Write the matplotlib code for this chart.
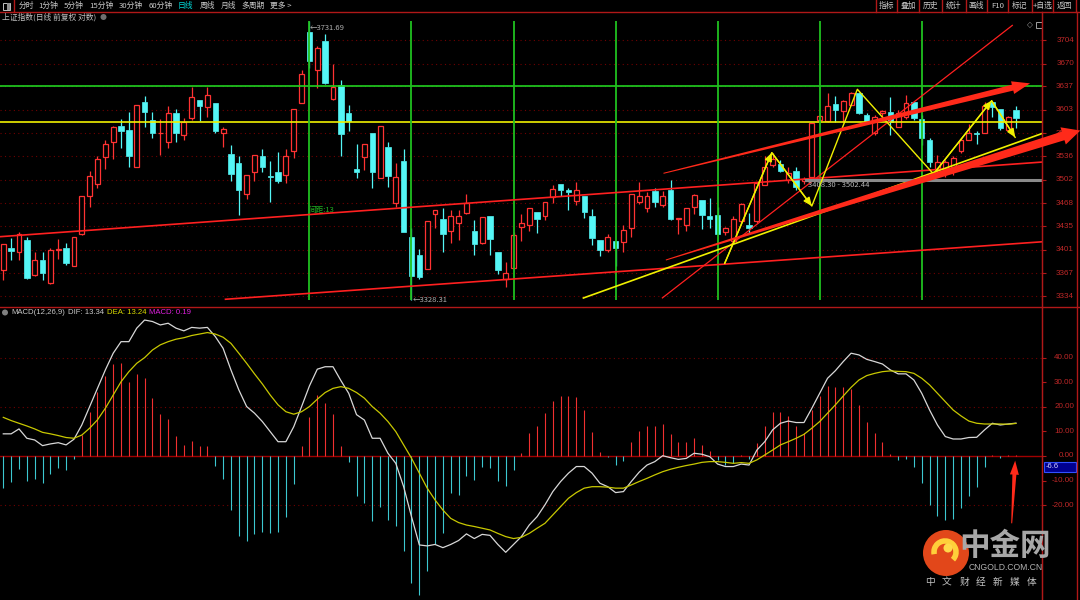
import numpy as np
import matplotlib
matplotlib.use('Agg')
import matplotlib.pyplot as plt
from matplotlib.patches import Polygon, Rectangle, Ellipse, Arc
from matplotlib.lines import Line2D
from matplotlib.transforms import IdentityTransform, blended_transform_factory

plt.rcParams['font.family'] = ['Noto Sans CJK SC', 'DejaVu Sans']

# ---------------- data ----------------
opens = [3371, 3404, 3398, 3415, 3365, 3386, 3353, 3401, 3403, 3378,
         3423, 3478, 3496, 3535, 3556, 3580, 3574, 3521, 3615, 3588,
         3569, 3557, 3598, 3567, 3591, 3618, 3607, 3613, 3569, 3539,
         3526, 3481, 3514, 3536, 3508, 3514, 3509, 3543, 3613, 3716,
         3660, 3703, 3619, 3639, 3598, 3518, 3535, 3570, 3504, 3550,
         3468, 3529, 3420, 3394, 3373, 3452, 3446, 3428, 3439, 3454,
         3428, 3410, 3450, 3397, 3358, 3375, 3434, 3437, 3456, 3449,
         3477, 3496, 3487, 3472, 3479, 3450, 3415, 3401, 3414, 3412,
         3432, 3470, 3461, 3486, 3466, 3487, 3445, 3437, 3463, 3473,
         3450, 3451, 3426, 3413, 3442, 3436, 3442, 3495, 3523, 3525,
         3502, 3515, 3500, 3506, 3588, 3587, 3611, 3602, 3610, 3628,
         3596, 3569, 3598, 3600, 3579, 3593, 3615, 3590, 3559, 3518,
         3516, 3521, 3543, 3560, 3570, 3569, 3614, 3604, 3574, 3603]
closes = [3409, 3399, 3424, 3360, 3386, 3367, 3401, 3402, 3382, 3419,
          3478, 3507, 3532, 3554, 3578, 3573, 3536, 3610, 3600, 3569,
          3570, 3598, 3569, 3585, 3622, 3608, 3625, 3573, 3576, 3510,
          3487, 3509, 3538, 3521, 3506, 3501, 3537, 3605, 3655, 3673,
          3692, 3642, 3636, 3568, 3587, 3514, 3554, 3513, 3580, 3508,
          3506, 3426, 3363, 3361, 3442, 3458, 3424, 3450, 3450, 3468,
          3409, 3448, 3417, 3371, 3367, 3422, 3440, 3461, 3446, 3470,
          3488, 3487, 3484, 3487, 3455, 3418, 3401, 3420, 3403, 3430,
          3481, 3478, 3478, 3470, 3479, 3446, 3447, 3461, 3480, 3451,
          3445, 3424, 3432, 3445, 3467, 3433, 3497, 3521, 3532, 3515,
          3512, 3492, 3503, 3584, 3594, 3609, 3603, 3616, 3627, 3599,
          3587, 3593, 3601, 3585, 3599, 3613, 3592, 3562, 3528, 3528,
          3528, 3533, 3559, 3569, 3568, 3609, 3607, 3577, 3593, 3592]
highs = [3409, 3418, 3427, 3420, 3398, 3398, 3403, 3416, 3411, 3419,
         3479, 3515, 3536, 3559, 3580, 3590, 3600, 3610, 3623, 3600,
         3590, 3609, 3605, 3592, 3636, 3618, 3636, 3613, 3579, 3552,
         3536, 3509, 3538, 3547, 3529, 3542, 3546, 3605, 3661, 3731.69,
         3695, 3713, 3670, 3646, 3610, 3554, 3554, 3570, 3580, 3556,
         3526, 3546, 3433, 3402, 3442, 3458, 3461, 3458, 3458, 3481,
         3444, 3448, 3450, 3397, 3383, 3426, 3453, 3461, 3456, 3470,
         3495, 3496, 3490, 3499, 3479, 3460, 3415, 3423, 3414, 3437,
         3481, 3499, 3484, 3490, 3486, 3502, 3447, 3461, 3482, 3473,
         3476, 3462, 3434, 3449, 3469, 3454, 3498, 3536, 3541, 3531,
         3521, 3521, 3506, 3584, 3595, 3627, 3623, 3618, 3629, 3629,
         3598, 3595, 3603, 3622, 3603, 3625, 3615, 3595, 3562, 3538,
         3531, 3536, 3562, 3582, 3572, 3615, 3615, 3605, 3594, 3609]
lows = [3357, 3386, 3386, 3358, 3363, 3357, 3352, 3387, 3379, 3378,
        3422, 3462, 3490, 3518, 3532, 3548, 3521, 3521, 3579, 3563,
        3538, 3548, 3557, 3559, 3588, 3587, 3593, 3569, 3550, 3501,
        3451, 3474, 3501, 3514, 3470, 3497, 3497, 3534, 3613, 3663,
        3634, 3641, 3618, 3536, 3572, 3505, 3516, 3490, 3504, 3492,
        3462, 3426, 3328.31, 3358, 3373, 3433, 3397, 3411, 3415, 3453,
        3393, 3409, 3393, 3366, 3347, 3374, 3414, 3428, 3425, 3444,
        3468, 3478, 3458, 3465, 3447, 3408, 3392, 3397, 3377, 3398,
        3420, 3467, 3455, 3462, 3462, 3444, 3423, 3428, 3452, 3431,
        3432, 3423, 3422, 3410, 3439, 3424, 3439, 3495, 3521, 3514,
        3497, 3487, 3496, 3504, 3586, 3586, 3586, 3586, 3610, 3597,
        3586, 3567, 3588, 3567, 3578, 3590, 3588, 3552, 3521, 3506,
        3506, 3509, 3541, 3559, 3554, 3569, 3593, 3574, 3573, 3577]

dif = [9.0, 9.0, 11.0, 7.2, 6.5, 4.2, 4.9, 5.4, 4.5, 6.8,
       12.6, 20.1, 27.5, 35.0, 41.8, 46.5, 46.5, 52.0, 55.3, 54.7,
       53.3, 54.0, 52.0, 50.9, 52.3, 52.0, 52.3, 48.6, 43.8, 35.0,
       26.9, 20.1, 17.4, 14.0, 9.9, 5.8, 5.8, 11.9, 20.1, 28.5,
       35.3, 36.3, 36.3, 30.7, 25.5, 16.8, 14.6, 7.2, 7.2, 1.1,
       -3.0, -12.5, -24.7, -36.2, -36.6, -36.0, -37.3, -36.0, -34.4, -31.7,
       -33.6, -31.9, -32.3, -36.0, -39.2, -36.0, -32.8, -28.1, -24.7, -19.9,
       -14.5, -10.4, -7.0, -4.3, -4.3, -7.0, -11.1, -12.5, -14.9, -14.5,
       -10.4, -6.6, -3.7, -2.3, 0.1, -0.7, -1.4, -1.0, 1.1, 0.7,
       -0.3, -3.3, -4.3, -4.3, -3.3, -3.7, 2.4, 5.8, 10.6, 13.3,
       14.2, 13.6, 13.6, 19.4, 25.5, 31.6, 34.7, 38.4, 41.8, 41.1,
       39.3, 38.4, 37.4, 35.0, 33.4, 33.4, 30.9, 25.5, 18.7, 12.6,
       7.9, 6.9, 6.9, 7.5, 7.6, 10.6, 13.3, 12.6, 13.0, 13.34]
dea = [15.7, 14.4, 13.3, 12.2, 11.0, 9.6, 9.0, 8.3, 7.5, 7.2,
       8.5, 11.3, 14.7, 19.4, 24.8, 30.2, 34.3, 37.7, 40.0, 43.1,
       45.2, 46.5, 47.5, 48.1, 49.0, 49.6, 50.2, 49.6, 48.3, 45.8,
       41.8, 37.7, 33.4, 29.3, 24.8, 20.8, 18.0, 17.0, 18.0, 20.1,
       23.1, 25.8, 27.5, 28.2, 27.5, 25.8, 23.5, 20.1, 17.4, 14.0,
       9.9, 4.5, -0.9, -7.0, -13.1, -17.9, -22.0, -25.4, -27.1, -28.1,
       -28.7, -29.4, -30.1, -31.5, -32.8, -33.6, -33.1, -31.5, -29.4, -27.4,
       -24.0, -20.6, -17.2, -14.9, -13.1, -12.5, -12.5, -12.7, -13.1, -13.1,
       -11.8, -10.4, -9.1, -7.7, -6.4, -5.4, -4.6, -3.9, -3.3, -2.6,
       -2.3, -2.3, -2.6, -3.0, -2.7, -3.0, -1.6, 0.4, 2.4, 4.5,
       5.8, 7.2, 8.8, 11.3, 14.0, 17.4, 20.8, 24.4, 27.9, 30.9,
       32.7, 33.6, 34.3, 34.6, 34.4, 34.3, 33.6, 31.6, 28.9, 25.5,
       22.1, 18.7, 16.3, 14.2, 13.3, 13.0, 13.0, 13.0, 12.9, 13.24]
macd = [-13.1, -10.4, -5.3, -10.0, -9.5, -11.1, -7.5, -5.0, -5.7, -1.4,
        8.5, 18.0, 26.2, 32.5, 37.4, 37.7, 30.2, 33.4, 31.6, 23.7,
        17.1, 15.1, 8.1, 4.5, 6.1, 4.1, 4.1, -3.9, -9.4, -22.0,
        -32.4, -34.8, -31.7, -31.0, -31.2, -30.9, -24.9, -11.4, 4.1, 16.0,
        24.8, 21.7, 17.1, 4.1, -2.3, -16.1, -19.3, -26.3, -20.9, -26.0,
        -28.3, -38.6, -51.5, -56.5, -46.8, -35.9, -31.2, -15.2, -15.9, -8.0,
        -9.8, -4.6, -4.7, -10.0, -12.2, -5.7, 1.4, 9.2, 12.3, 17.4,
        22.4, 24.5, 24.5, 23.9, 18.7, 9.9, 1.8, -0.3, -3.7, -1.9,
        5.8, 10.2, 12.3, 12.3, 13.0, 8.8, 5.8, 5.8, 7.5, 4.5,
        2.2, -1.6, -3.7, -2.7, 0.4, -1.4, 5.2, 12.3, 18.0, 18.0,
        16.4, 12.2, 9.5, 18.7, 24.4, 28.5, 28.2, 28.0, 27.1, 20.7,
        14.0, 9.2, 5.8, 0.8, -1.6, -1.2, -4.3, -10.8, -19.9, -24.3,
        -26.0, -25.8, -21.0, -16.1, -12.5, -4.3, 0.3, -0.9, 0.2, 0.19]

price_ticks = [3704, 3670, 3637, 3603, 3569, 3536, 3502, 3468, 3435, 3401, 3367, 3334]
macd_ticks = [40, 30, 20, 10, 0, -10, -20]

# drawing-tool objects (bar index, price)
green_level = 3637
yellow_level = 3585
box_level = 3502.44
cycle_bars = [39, 52, 65, 78, 91, 104, 117]
channel_top = [(-0.42, 3419.8), (132.4, 3527.7)]
channel_low = [(28.2, 3329.3), (132.4, 3412.5)]
steep_line = [(83.9, 3330.8), (128.6, 3725.7)]
yellow_trend = [(73.8, 3330.8), (132.4, 3569.2)]
zigzag_x = [91.9, 97.9, 103.0, 108.8, 118.5, 125.9, 128.9]
zigzag_p = [3381.3, 3541.2, 3464.1, 3632.8, 3510.4, 3616.3, 3563.4]
arrow_up = [(84.1, 3511.4), (130.8, 3641.4)]
arrow_low = [(84.4, 3386.1), (137.2, 3573.2)]

W, H = 1080, 600
RED = '#ff3232'
CYAN = '#54f6f6'
GRIDC = '#700000'
AXRED = '#b01818'

fig = plt.figure(figsize=(10.8, 6), dpi=100, facecolor='black')


def fx(px):
    return px / W


def fy(py):
    return 1 - py / H


ax = fig.add_axes([0, fy(307), fx(1042), fy(12) - fy(307)])
axm = fig.add_axes([0, 0, fx(1042), fy(307)])

x = np.arange(len(opens))
o = np.array(opens, float)
c = np.array(closes, float)
hi = np.array(highs, float)
lo = np.array(lows, float)
up = c >= o

for a in (ax, axm):
    a.set_facecolor('black')
    a.set_xlim(-0.42, 132.32)
    for s in ('top', 'left', 'bottom'):
        a.spines[s].set_visible(False)
    a.spines['right'].set_color(AXRED)
    a.set_xticks([])
    a.yaxis.tick_right()
    a.tick_params(axis='y', colors=AXRED, length=3, width=0.8,
                  labelright=False, direction='out')

ax.set_ylim(3318.2, 3744.5)
ax.set_yticks(price_ticks)
ax.grid(axis='y', color=GRIDC, linestyle=(0, (1, 3)), linewidth=0.8)
axm.set_ylim(-58.6, 60.6)
axm.set_yticks(macd_ticks)
for v in (40, 20, -20):
    axm.axhline(v, color=GRIDC, linestyle=(0, (1, 3)), linewidth=0.8)
axm.axhline(0, color='#a00000', linewidth=1.0, zorder=1)

# candles
top = np.maximum(o, c)
bot = np.minimum(o, c)
wick_col = np.where(up, RED, CYAN)
ax.vlines(x, top, hi, colors=wick_col, linewidth=0.9, zorder=2)
ax.vlines(x, lo, bot, colors=wick_col, linewidth=0.9, zorder=2)
height = np.maximum(top - bot, 0.8)
ax.bar(x[up], height[up], bottom=bot[up], width=0.62, facecolor='black',
       edgecolor=RED, linewidth=0.9, zorder=3)
ax.bar(x[~up], height[~up], bottom=bot[~up], width=0.68, facecolor=CYAN,
       edgecolor=CYAN, linewidth=0.5, zorder=3)

# drawing tools
ax.axhline(green_level, color='#20d020', linewidth=1.2, zorder=4)
ax.axhline(yellow_level, color='#f0f000', linewidth=1.2, zorder=4)
ax.vlines(cycle_bars, min(lows), max(highs), colors='#20c020', linewidth=1.3, zorder=4)
for seg, col, lw in ((channel_top, '#ff2020', 1.2), (channel_low, '#ff2020', 1.2),
                     (steep_line, '#ff2020', 0.9), (yellow_trend, '#f0f000', 1.2)):
    ax.plot([seg[0][0], seg[1][0]], [seg[0][1], seg[1][1]], color=col,
            linewidth=lw, zorder=4, solid_capstyle='butt')
ax.plot([102.3, 132.4], [box_level, box_level], color='#8a8a8a', linewidth=2.2, zorder=4)
ax.plot(zigzag_x, zigzag_p, color='#f0f000', linewidth=1.0, zorder=5)
for k in (1, 2, 5, 6):
    ax.annotate('', xy=(zigzag_x[k], zigzag_p[k]),
                xytext=(zigzag_x[k - 1], zigzag_p[k - 1]),
                arrowprops=dict(arrowstyle='-|>,head_length=0.5,head_width=0.22',
                                color='#f0f000', lw=1.0, shrinkA=0, shrinkB=0),
                zorder=5)


def taper_arrow(axis, p0, p1, w0, w1, hw, hl, color):
    a = axis.transData.transform(p0)
    b = axis.transData.transform(p1)
    d = b - a
    u = d / np.hypot(*d)
    n = np.array([-u[1], u[0]])
    base = b - u * hl
    verts = [a + n * w0 / 2, base + n * w1 / 2, base + n * hw / 2, b,
             base - n * hw / 2, base - n * w1 / 2, a - n * w0 / 2]
    fig.add_artist(Polygon(verts, closed=True, transform=IdentityTransform(),
                           facecolor=color, edgecolor='none', zorder=6))


taper_arrow(ax, arrow_up[0], arrow_up[1], 1.0, 6.0, 13, 18, '#ff2a1a')
taper_arrow(ax, arrow_low[0], arrow_low[1], 1.0, 9.0, 18, 18, '#ff2a1a')

ax.text(38.9, 3458.4, '间距:13', color='#20b020', fontsize=5.5, va='center', zorder=6)
ax.text(39.1, 3722, '←3731.69', color='#b0b0b0', fontsize=5.5, va='center', zorder=6)
ax.text(52.1, 3328, '←3328.31', color='#b0b0b0', fontsize=5.5, va='center', zorder=6)
ax.text(102.5, 3494.5, '3408.30 - 3502.44', color='#b8b8b8', fontsize=5.5,
        va='center', zorder=6)

# MACD
hist = np.array(macd)
axm.vlines(x, 0, hist, colors=np.where(hist >= 0, '#f03030', '#3cc8d0'),
           linewidth=0.8, zorder=2)
axm.plot(x, dif, color='#d8d8d8', linewidth=0.9, zorder=3)
axm.plot(x, dea, color='#c8c800', linewidth=0.9, zorder=3)
taper_arrow(axm, (128.46, -27.4), (128.9, -1.9), 1.0, 4.0, 9, 14, '#ff2a1a')

# right axis labels
tr = blended_transform_factory(ax.transAxes, ax.transData)
for p in price_ticks:
    ax.text(1074 / 1042, p, str(p), transform=tr, ha='right', va='center',
            color='#c02828', fontsize=5.8, family='Liberation Sans', clip_on=False)
trm = blended_transform_factory(axm.transAxes, axm.transData)
for v in macd_ticks:
    axm.text(1074 / 1042, v, f'{v:.2f}', transform=trm, ha='right', va='center',
             color='#c02828', fontsize=5.8, family='Liberation Sans', clip_on=False)

fig.add_artist(Rectangle((fx(1044), fy(472)), fx(32), 10 / H, transform=fig.transFigure,
                         facecolor='#000090', edgecolor='#3050ff', linewidth=0.8))
fig.text(fx(1046), fy(467), '-6.6', color='#d0d0ff', fontsize=5.5,
         va='center', family='Liberation Sans')

# frame lines
for xx in (1042, 1076.7):
    fig.add_artist(Line2D([fx(xx)] * 2, [0, fy(12)], color=AXRED, linewidth=1.0))
fig.add_artist(Line2D([0, 1], [fy(12.3)] * 2, color=AXRED, linewidth=1.0))
fig.add_artist(Line2D([0, 1], [fy(307)] * 2, color=AXRED, linewidth=1.0))

# toolbar
fig.add_artist(Rectangle((fx(3), fy(10)), fx(7), 7 / H, transform=fig.transFigure,
                         facecolor='none', edgecolor='#c0c0c0', linewidth=0.7))
fig.add_artist(Rectangle((fx(7), fy(10)), fx(3), 7 / H, transform=fig.transFigure,
                         facecolor='#909090', edgecolor='none'))
fig.add_artist(Line2D([fx(14)] * 2, [fy(12), 1], color=AXRED, linewidth=1.0))
left_tabs = ['分时', '1分钟', '5分钟', '15分钟', '30分钟', '60分钟', '日线', '周线', '月线', '多周期', '更多 >']
left_x = [18.3, 38.3, 63.3, 89.3, 118.3, 148.3, 177.7, 199.3, 220.7, 241.7, 270]
for t, px in zip(left_tabs, left_x):
    fig.text(fx(px), fy(6), t, color='#00d8d8' if t == '日线' else '#c8c8c8',
             fontsize=5.6, va='center', ha='left')
right_tabs = ['指标', '叠加', '历史', '统计', '画线', 'F10', '标记', '+自选', '返回']
seps = [875.7, 896.7, 919, 941.7, 965.7, 986.7, 1008.3, 1031.7, 1053.3, 1076]
for i, t in enumerate(right_tabs):
    fig.text(fx((seps[i] + seps[i + 1]) / 2), fy(6), t, color='#c8c8c8',
             fontsize=5.6, va='center', ha='center')
for s in seps:
    fig.add_artist(Line2D([fx(s)] * 2, [fy(12), 1], color=AXRED, linewidth=1.0))

fig.text(fx(2), fy(17.5), '上证指数(日线 前复权 对数)', color='#c0c0c0', fontsize=5.6,
         va='center', ha='left')
fig.add_artist(Ellipse((fx(103.5), fy(17)), fx(6), 6 / H, transform=fig.transFigure,
                       facecolor='#707070', edgecolor='none'))
fig.text(fx(1030), fy(25), '◇', color='#a0a0a0', fontsize=5.5, va='center', ha='center',
         family='DejaVu Sans')
fig.add_artist(Rectangle((fx(1036), fy(28)), fx(6), 6 / H, transform=fig.transFigure,
                         facecolor='none', edgecolor='#a0a0a0', linewidth=0.7))

# MACD legend
fig.add_artist(Ellipse((fx(5), fy(312.5)), fx(6), 6 / H, transform=fig.transFigure,
                       facecolor='#808080', edgecolor='none'))
leg = [('MACD(12,26,9)', 11.7, '#c8c8c8'), ('DIF: 13.34', 67.7, '#c8c8c8'),
       ('DEA: 13.24', 106.7, '#d8d800'), ('MACD: 0.19', 149, '#e020e0')]
for t, px, col in leg:
    fig.text(fx(px), fy(312.5), t, color=col, fontsize=5.6, va='center', ha='left',
             family='Liberation Sans')

# logo
fig.add_artist(Ellipse((fx(946), fy(553)), fx(46), 46 / H, transform=fig.transFigure,
                       facecolor='#e2471a', edgecolor='none'))
fig.add_artist(Arc((fx(945), fy(552)), fx(22), 22 / H, theta1=-60, theta2=200,
                   transform=fig.transFigure, color='#ffcf3a', linewidth=4))
fig.add_artist(Ellipse((fx(948), fy(548)), fx(9), 9 / H, transform=fig.transFigure,
                       facecolor='#ffd84a', edgecolor='none'))
fig.text(fx(1005), fy(546), '中金网', color='#a8a8a8', fontsize=22, fontweight='bold',
         va='center', ha='center')
fig.text(fx(1006), fy(568), 'CNGOLD.COM.CN', color='#b0b0b0', fontsize=6.2,
         va='center', ha='center', family='Liberation Sans')
for i, ch in enumerate('中文财经新媒体'):
    fig.text(fx(930 + 17 * i), fy(582), ch, color='#c0c0c0', fontsize=7,
             va='center', ha='center')

fig.savefig('out.png', dpi=100, facecolor='black')
